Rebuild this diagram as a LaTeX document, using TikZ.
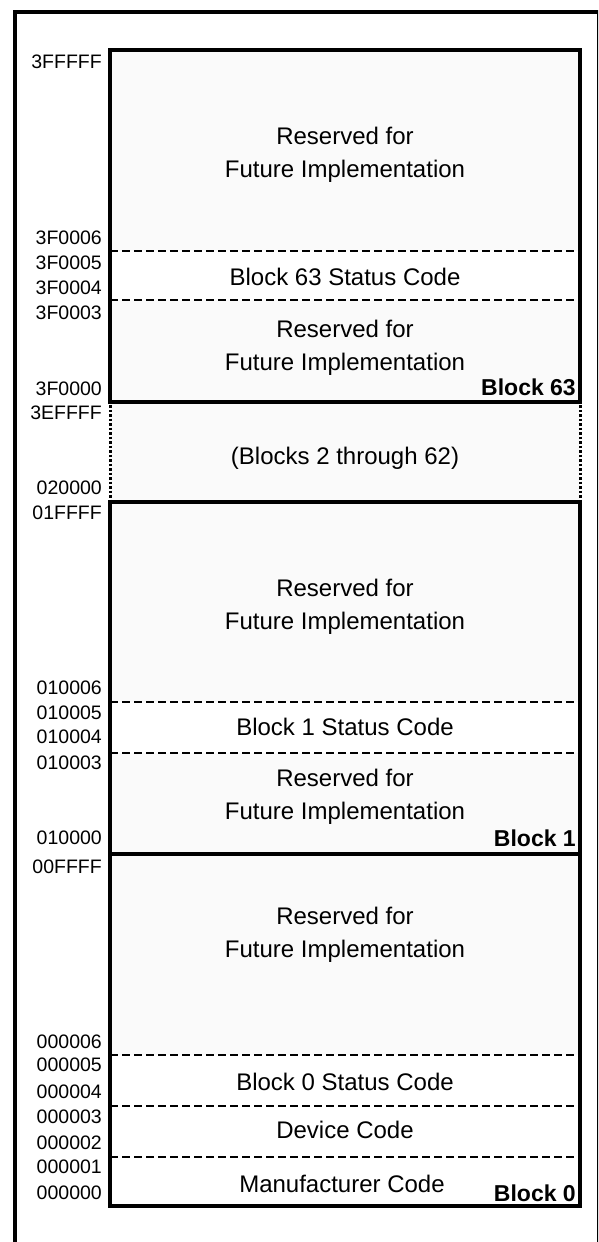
\documentclass[tikz,border=0pt]{standalone}
\usepackage{fontspec}
\setmainfont{Liberation Sans}
\usetikzlibrary{positioning}

\begin{document}
\begin{tikzpicture}[x=1pt, y=-1pt,
    frame/.style={line width=3.5pt},
    blockline/.style={line width=3.5pt},
    sepline/.style={line width=1.6pt, dash pattern=on 8pt off 4pt},
    gapline/.style={line width=3pt, dash pattern=on 2.5pt off 2pt},
    shade/.style={fill=black!2},
    addr/.style={anchor=east, inner sep=0pt, font=\fontsize{19.5}{19.5}\selectfont},
    areatext/.style={align=center, inner sep=0pt, font=\fontsize{24}{33}\selectfont},
    blocktag/.style={anchor=base east, inner sep=0pt, font=\fontsize{23}{23}\selectfont\bfseries},
]
    \useasboundingbox (0,0) rectangle (598,1242);
    \clip (0,0) rectangle (598,1242);

    % light areas
    \fill[shade] (110,50) rectangle (580,251);
    \fill[shade] (110,300) rectangle (580,402);
    \fill[shade] (110,402) rectangle (580,502);
    \fill[shade] (110,502) rectangle (580,702);
    \fill[shade] (110,753) rectangle (580,854);
    \fill[shade] (110,854) rectangle (580,1055);

    % outer frame
    \draw[frame] (15,12) rectangle (599,1262);

    % Block 63
    \draw[sepline] (110,251) -- (580,251);
    \draw[sepline] (110,300) -- (580,300);
    \draw[blockline] (110,50) rectangle (580,402);
    \node[areatext] (res63a) at (345,155) {Reserved for\\Future Implementation};
    \node[areatext] (stat63) at (345,277) {Block 63 Status Code};
    \node[areatext] (res63b) at (345,348) {Reserved for\\Future Implementation};
    \node[blocktag] (tag63) at (576,395) {Block 63};

    % Blocks 2 through 62
    \draw[gapline] (110,405) -- (110,500);
    \draw[gapline] (580,405) -- (580,500);
    \node[areatext] (mid) at (345,458) {(Blocks 2 through 62)};

    % Block 1
    \draw[sepline] (110,702) -- (580,702);
    \draw[sepline] (110,753) -- (580,753);
    \draw[blockline] (110,502) rectangle (580,854);
    \node[areatext] (res1a) at (345,607) {Reserved for\\Future Implementation};
    \node[areatext] (stat1) at (345,727) {Block 1 Status Code};
    \node[areatext] (res1b) at (345,797) {Reserved for\\Future Implementation};
    \node[blocktag] (tag1) at (576,846) {Block 1};

    % Block 0
    \draw[sepline] (110,1055) -- (580,1055);
    \draw[sepline] (110,1106) -- (580,1106);
    \draw[sepline] (110,1157) -- (580,1157);
    \draw[blockline] (110,854) rectangle (580,1206);
    \node[areatext] (res0) at (345,935) {Reserved for\\Future Implementation};
    \node[areatext] (stat0) at (345,1082) {Block 0 Status Code};
    \node[areatext] (dev0) at (345,1130) {Device Code};
    \node[areatext] (man0) at (342,1184) {Manufacturer Code};
    \node[blocktag] (tag0) at (576,1201) {Block 0};

    % addresses
    \foreach \a/\y in {3FFFFF/62, 3F0006/238, 3F0005/263, 3F0004/288, 3F0003/313,
                       3F0000/389, 3EFFFF/413, 020000/488, 01FFFF/513,
                       010006/688, 010005/713, 010004/737, 010003/763, 010000/838,
                       00FFFF/867, 000006/1042, 000005/1065, 000004/1092,
                       000003/1117, 000002/1143, 000001/1167, 000000/1193}
        \node[addr] (a\a) at (102,\y) {\a};
\end{tikzpicture}
\end{document}
